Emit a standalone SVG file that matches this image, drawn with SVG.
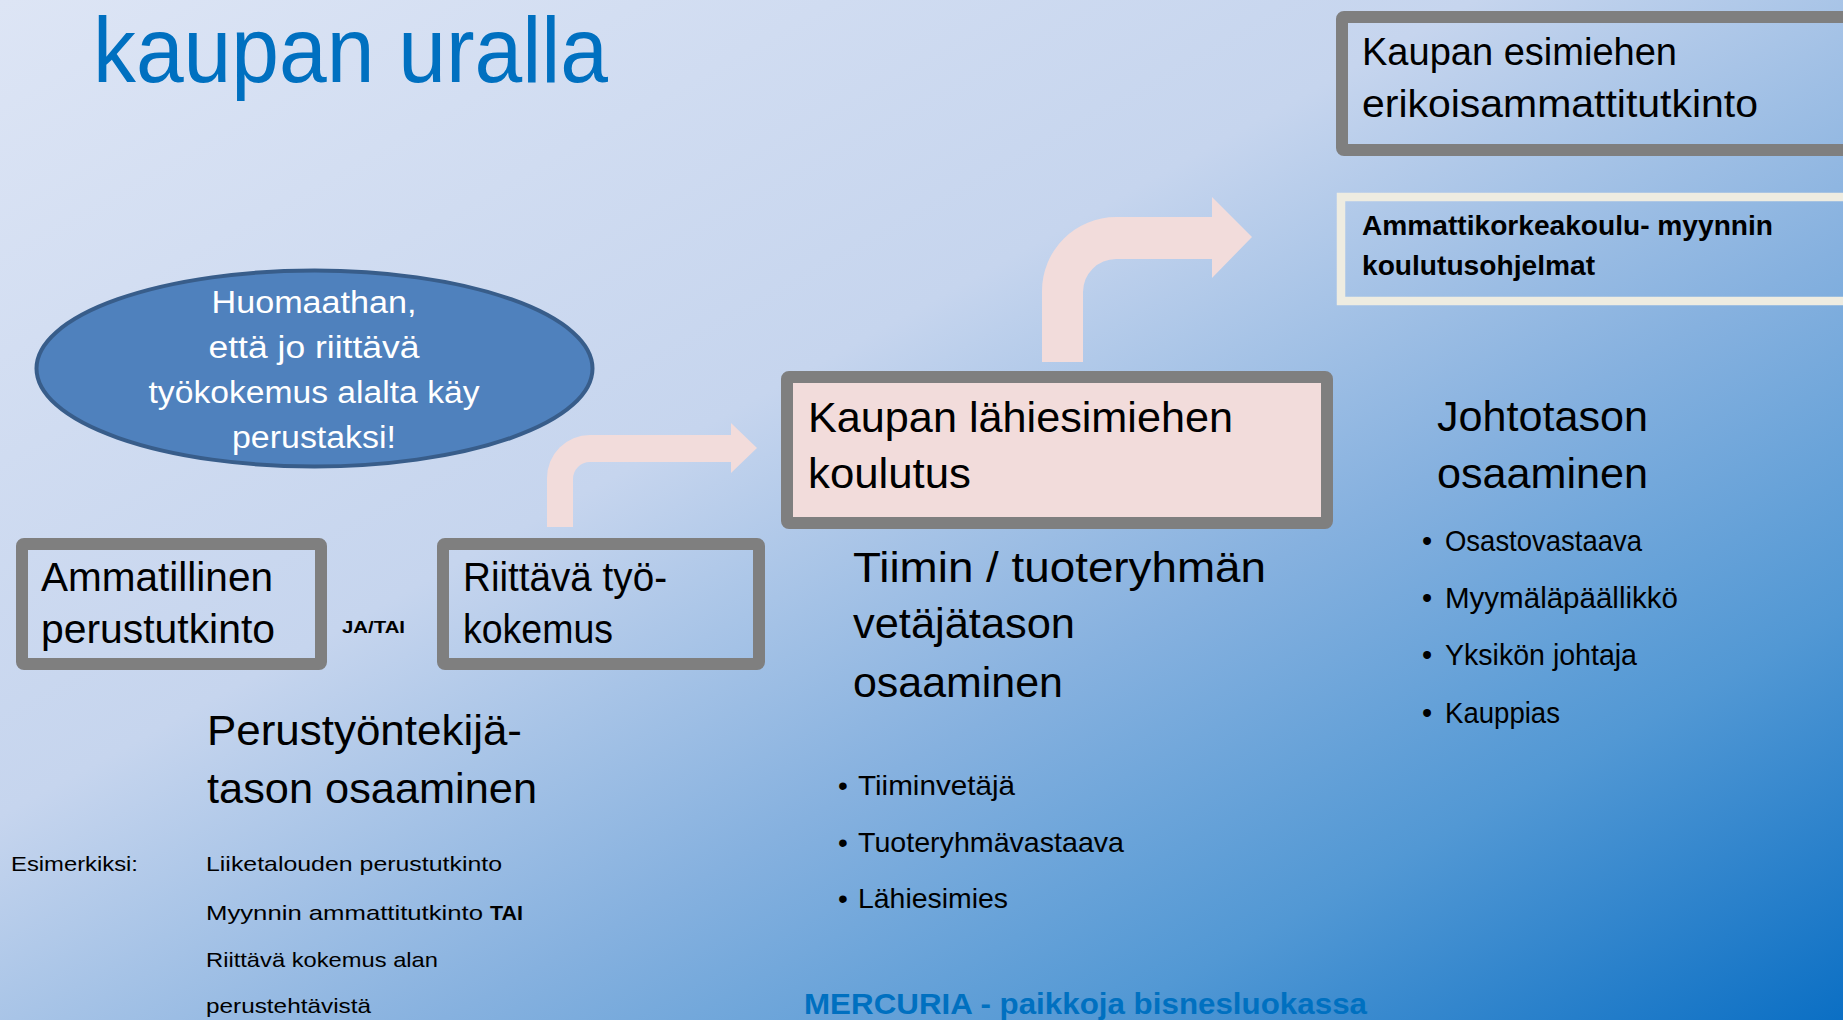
<svg xmlns="http://www.w3.org/2000/svg" width="1843" height="1020" viewBox="0 0 1843 1020">
<defs>
<linearGradient id="bg" x1="0" y1="0" x2="1" y2="1">
<stop offset="0" stop-color="#DDE5F5"/>
<stop offset="0.4" stop-color="#C6D5EE"/>
<stop offset="0.62" stop-color="#86B1DF"/>
<stop offset="0.8" stop-color="#5298D4"/>
<stop offset="1" stop-color="#0B6FC4"/>
</linearGradient>
<style>
text{font-family:"Liberation Sans",Arial,sans-serif;fill:#000}
.box{fill:none;stroke:#7F7F7F;stroke-width:12}
.arrow{fill:#F2DCDB}
.w{fill:#fff;font-size:31px;text-anchor:middle}
.big{font-size:42px}
.mid{font-size:41px}
.sm{font-size:21px}
.bul{font-size:28px}
.b{font-weight:bold}
.blue{fill:#0070C0}
</style>
</defs>
<rect width="1843" height="1020" fill="url(#bg)"/>
<g id="title"><text x="93" y="82" font-size="92" class="blue" textLength="515" lengthAdjust="spacingAndGlyphs">kaupan uralla</text></g>
<g id="connectors">
<path class="arrow" d="M547,527 L547,478 A43,43 0 0 1 590,435 L731,435 L731,423 L757,448 L731,473 L731,462 L590,462 A17,17 0 0 0 573,479 L573,527 Z"/>
<path class="arrow" d="M1042,362 L1042,291 A74,74 0 0 1 1116,217 L1212,217 L1212,197 L1252,237 L1212,278 L1212,259 L1116,259 A33,33 0 0 0 1083,292 L1083,362 Z"/>
</g>
<g id="note">
<ellipse cx="314.5" cy="368.5" rx="278" ry="98" fill="#4F81BD" stroke="#385D8A" stroke-width="4"/>
<text class="w" x="314" y="313" textLength="205" lengthAdjust="spacingAndGlyphs">Huomaathan,</text>
<text class="w" x="314" y="358" textLength="211" lengthAdjust="spacingAndGlyphs">että jo riittävä</text>
<text class="w" x="314" y="403" textLength="331" lengthAdjust="spacingAndGlyphs">työkokemus alalta käy</text>
<text class="w" x="314" y="448" textLength="164" lengthAdjust="spacingAndGlyphs">perustaksi!</text>
</g>
<g id="ammatillinen">
<rect class="box" x="22" y="544" width="299" height="120" rx="2"/>
<text class="mid" x="41" y="591" textLength="232" lengthAdjust="spacingAndGlyphs">Ammatillinen</text>
<text class="mid" x="41" y="643" textLength="234" lengthAdjust="spacingAndGlyphs">perustutkinto</text>
</g>
<g id="ja-tai"><text class="b" x="342" y="633" font-size="17" textLength="63" lengthAdjust="spacingAndGlyphs">JA/TAI</text></g>
<g id="riittava">
<rect class="box" x="443" y="544" width="316" height="120" rx="2"/>
<text class="mid" x="463" y="591" textLength="204" lengthAdjust="spacingAndGlyphs">Riittävä työ-</text>
<text class="mid" x="463" y="643" textLength="150" lengthAdjust="spacingAndGlyphs">kokemus</text>
</g>
<g id="perustyontekija">
<text class="big" x="207" y="745" textLength="315" lengthAdjust="spacingAndGlyphs">Perustyöntekijä-</text>
<text class="big" x="207" y="803" textLength="330" lengthAdjust="spacingAndGlyphs">tason osaaminen</text>
<text class="sm" x="11" y="871" textLength="127" lengthAdjust="spacingAndGlyphs">Esimerkiksi:</text>
<text class="sm" x="206" y="871" textLength="296" lengthAdjust="spacingAndGlyphs">Liiketalouden perustutkinto</text>
<text class="sm" x="206" y="920" textLength="277" lengthAdjust="spacingAndGlyphs">Myynnin ammattitutkinto</text>
<text class="sm b" x="490" y="920" textLength="33" lengthAdjust="spacingAndGlyphs">TAI</text>
<text class="sm" x="206" y="967" textLength="232" lengthAdjust="spacingAndGlyphs">Riittävä kokemus alan</text>
<text class="sm" x="206" y="1013" textLength="165" lengthAdjust="spacingAndGlyphs">perustehtävistä</text>
</g>
<g id="lahiesimies">
<rect class="box" x="787" y="377" width="540" height="146" rx="2" style="fill:#F2DCDB"/>
<text font-size="42" x="808" y="432" textLength="425" lengthAdjust="spacingAndGlyphs">Kaupan lähiesimiehen</text>
<text font-size="42" x="808" y="488" textLength="163" lengthAdjust="spacingAndGlyphs">koulutus</text>
</g>
<g id="tiimi">
<text font-size="43" x="853" y="582" textLength="413" lengthAdjust="spacingAndGlyphs">Tiimin / tuoteryhmän</text>
<text font-size="43" x="853" y="638" textLength="222" lengthAdjust="spacingAndGlyphs">vetäjätason</text>
<text font-size="43" x="853" y="697" textLength="210" lengthAdjust="spacingAndGlyphs">osaaminen</text>
<text class="bul" x="838" y="795">•</text>
<text class="bul" x="858" y="795" textLength="157" lengthAdjust="spacingAndGlyphs">Tiiminvetäjä</text>
<text class="bul" x="838" y="852">•</text>
<text class="bul" x="858" y="852" textLength="266" lengthAdjust="spacingAndGlyphs">Tuoteryhmävastaava</text>
<text class="bul" x="838" y="908">•</text>
<text class="bul" x="858" y="908" textLength="150" lengthAdjust="spacingAndGlyphs">Lähiesimies</text>
</g>
<g id="mercuria"><text class="b blue" x="804" y="1014" font-size="30" textLength="563" lengthAdjust="spacingAndGlyphs">MERCURIA - paikkoja bisnesluokassa</text></g>
<g id="johtotaso">
<text class="big" x="1437" y="431" textLength="211" lengthAdjust="spacingAndGlyphs">Johtotason</text>
<text class="big" x="1437" y="488" textLength="211" lengthAdjust="spacingAndGlyphs">osaaminen</text>
<text font-size="29" x="1422" y="551">•</text>
<text font-size="29" x="1445" y="551" textLength="197" lengthAdjust="spacingAndGlyphs">Osastovastaava</text>
<text font-size="29" x="1422" y="608">•</text>
<text font-size="29" x="1445" y="608" textLength="233" lengthAdjust="spacingAndGlyphs">Myymäläpäällikkö</text>
<text font-size="29" x="1422" y="665">•</text>
<text font-size="29" x="1445" y="665" textLength="192" lengthAdjust="spacingAndGlyphs">Yksikön johtaja</text>
<text font-size="29" x="1422" y="723">•</text>
<text font-size="29" x="1445" y="723" textLength="115" lengthAdjust="spacingAndGlyphs">Kauppias</text>
</g>
<g id="esimies">
<rect class="box" x="1342" y="17" width="540" height="133" rx="2"/>
<text font-size="38" x="1362" y="65" textLength="315" lengthAdjust="spacingAndGlyphs">Kaupan esimiehen</text>
<text font-size="38" x="1362" y="117" textLength="396" lengthAdjust="spacingAndGlyphs">erikoisammattitutkinto</text>
</g>
<g id="amk">
<rect x="1341" y="197" width="540" height="104" fill="none" stroke="#EEECE1" stroke-width="8.5"/>
<text class="b" font-size="27" x="1362" y="235" textLength="411" lengthAdjust="spacingAndGlyphs">Ammattikorkeakoulu- myynnin</text>
<text class="b" font-size="27" x="1362" y="275" textLength="233" lengthAdjust="spacingAndGlyphs">koulutusohjelmat</text>
</g>
</svg>
